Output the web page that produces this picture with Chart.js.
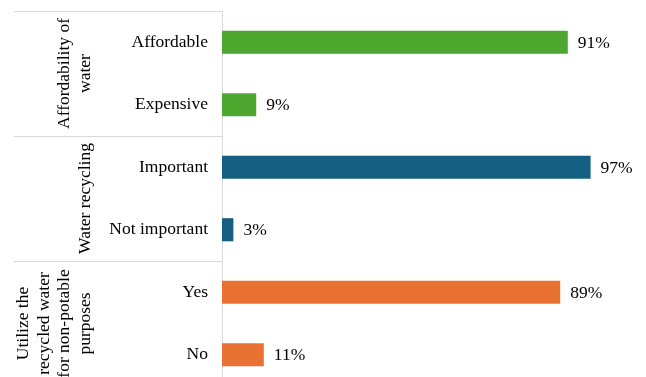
<!DOCTYPE html>
<html>
<head>
<meta charset="utf-8">
<script src="https://cdn.jsdelivr.net/npm/chart.js@4"></script>
<style>
  html, body { margin: 0; padding: 0; background: #fff; overflow: hidden; }
  #wrap { width: 646px; height: 388px; }
</style>
</head>
<body>
<div id="wrap"><canvas id="chart"></canvas></div>
<script>
const categories = ['Affordable', 'Expensive', 'Important', 'Not important', 'Yes', 'No'];
const values = [91, 9, 97, 3, 89, 11];
const barColors = ['#4ea72e', '#4ea72e', '#156082', '#156082', '#e97132', '#e97132'];
const groupNames = [
    ['Affordability of', 'water'],
    ['Water recycling'],
    ['Utilize the', 'recycled water', 'for non-potable', 'purposes']
];
const groupSize = 2;

const FONT = '"Liberation Serif", "Times New Roman", serif';

// group labels + separator lines on the left
const groupPlugin = {
    id: 'groups',
    afterDraw(chart) {
        const ctx = chart.ctx;
        const y = chart.scales.y;
        const left = chart.chartArea.left;
        const step = y.getPixelForValue(1) - y.getPixelForValue(0);
        ctx.save();
        ctx.strokeStyle = '#d9d9d9';
        ctx.lineWidth = 1;
        for (let g = 0; g <= groupNames.length; g++) {
            const py = Math.round(y.getPixelForValue(g * groupSize) - step / 2) + 0.5;
            ctx.beginPath();
            ctx.moveTo(14, py);
            ctx.lineTo(left, py);
            ctx.stroke();
        }
        ctx.fillStyle = '#000';
        ctx.font = '17.5px ' + FONT;
        ctx.textAlign = 'center';
        ctx.textBaseline = 'middle';
        groupNames.forEach((lines, g) => {
            const top = y.getPixelForValue(g * groupSize) - step / 2;
            const cy = top + step * groupSize / 2;
            const lh = 20.5;
            lines.forEach((txt, i) => {
                const cx = 85 - (lines.length - 1 - i) * lh;
                ctx.save();
                ctx.translate(cx, cy);
                ctx.rotate(-Math.PI / 2);
                ctx.fillText(txt, 0, 0);
                ctx.restore();
            });
        });
        ctx.restore();
    }
};

// value labels at bar ends
const valuePlugin = {
    id: 'values',
    afterDatasetsDraw(chart) {
        const ctx = chart.ctx;
        const meta = chart.getDatasetMeta(0);
        ctx.save();
        ctx.fillStyle = '#000';
        ctx.font = '17.5px ' + FONT;
        ctx.textAlign = 'left';
        ctx.textBaseline = 'middle';
        meta.data.forEach((bar, i) => {
            ctx.fillText(values[i] + '%', bar.x + 10, bar.y + 1);
        });
        ctx.restore();
    }
};

new Chart(document.getElementById('chart'), {
    type: 'bar',
    data: {
        labels: categories,
        datasets: [{
            data: values,
            backgroundColor: barColors,
            barPercentage: 0.37,
            categoryPercentage: 1
        }]
    },
    options: {
        indexAxis: 'y',
        responsive: true,
        maintainAspectRatio: false,
        animation: false,
        layout: { padding: { top: 11, right: 44, bottom: 2, left: 0 } },
        plugins: { legend: { display: false }, tooltip: { enabled: false } },
        scales: {
            x: { display: false, min: 0, max: 100 },
            y: {
                afterFit(scale) {
                    scale.width = 222;
                    scale.paddingTop = 0;
                    scale.paddingBottom = 0;
                },
                grid: { display: false, drawTicks: false },
                border: { display: true, color: '#d9d9d9', width: 1 },
                ticks: { color: '#000', padding: 14, font: { family: FONT, size: 17.5 } }
            }
        }
    },
    plugins: [groupPlugin, valuePlugin]
});
</script>
</body>
</html>
